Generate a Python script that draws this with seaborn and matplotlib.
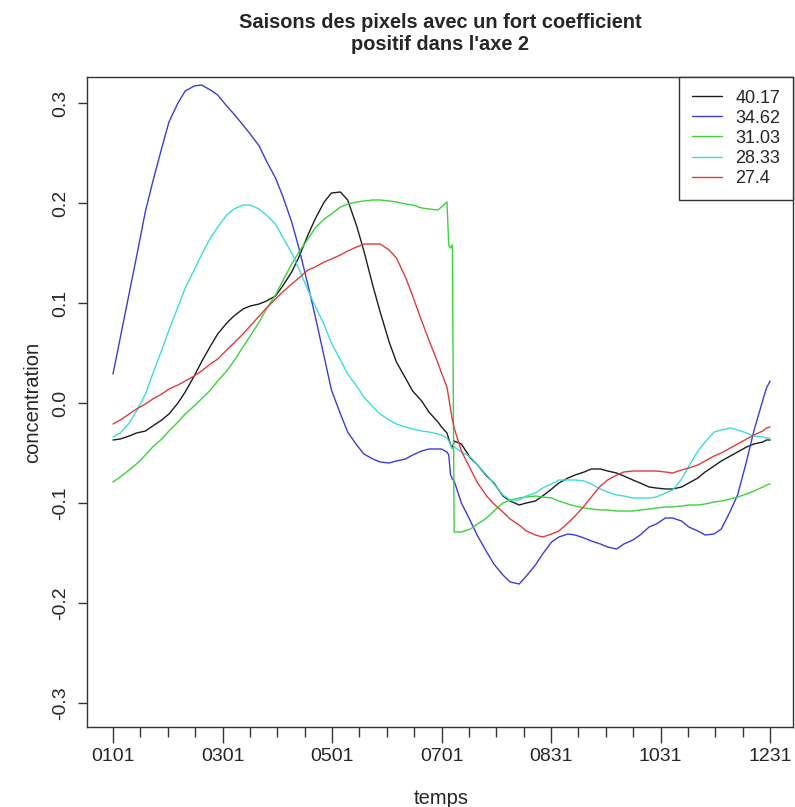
import numpy as np
import pandas as pd
import matplotlib
matplotlib.use("Agg")
import matplotlib.pyplot as plt
import seaborn as sns

# ---- data ----
# main reading grid (day of year)
days_a = [1, 10, 19, 28, 37, 46, 55, 64, 73, 82, 91, 100, 109, 118, 127, 136, 145, 154, 163, 172, 181,
          186, 187, 188, 189, 190,
          199, 208, 217, 226, 235, 244, 253, 262, 271, 280, 289, 298, 307, 316, 325, 334, 343, 352, 361,
          365]
# extra readings in between
days_b = [5, 14, 23, 32, 41, 50, 59, 68, 77, 86, 95, 104, 113, 122, 131, 140, 149, 158, 167, 176, 183,
          194, 203, 212, 221, 230, 239, 248, 257, 266, 275, 284, 293, 302, 311, 320, 329, 338, 347, 356, 363]

labels = ["40.17", "34.62", "31.03", "28.33", "27.4"]

s_4017_a = [-0.037, -0.033, -0.028, -0.017, 0.000, 0.027, 0.057, 0.080, 0.094, 0.099, 0.107, 0.131, 0.168,
            0.201, 0.211, 0.177, 0.117, 0.061, 0.025, 0.002, -0.019,
            -0.030, -0.036, -0.042, -0.045, -0.038,
            -0.055, -0.073, -0.093, -0.102, -0.098, -0.086, -0.075, -0.069, -0.066, -0.070, -0.077, -0.084,
            -0.086, -0.084, -0.075, -0.063, -0.053, -0.044, -0.039,
            -0.037]
s_4017_b = [-0.036, -0.030, -0.023, -0.011, 0.011, 0.041, 0.069, 0.087, 0.097, 0.102, 0.117, 0.146, 0.184,
            0.210, 0.203, 0.152, 0.091, 0.041, 0.012, -0.009, -0.024,
            -0.041, -0.062, -0.080, -0.098, -0.100, -0.093, -0.080, -0.072, -0.066, -0.068, -0.073, -0.080,
            -0.085, -0.086, -0.080, -0.069, -0.058, -0.049, -0.041, -0.037]

s_3462_a = [0.029, 0.110, 0.192, 0.255, 0.300, 0.317, 0.313, 0.297, 0.278, 0.257, 0.225, 0.181, 0.118,
            0.046, -0.011, -0.042, -0.056, -0.060, -0.056, -0.048, -0.046,
            -0.049, -0.052, -0.072, -0.076, -0.078,
            -0.118, -0.149, -0.172, -0.181, -0.162, -0.139, -0.131, -0.135, -0.141, -0.146, -0.137, -0.124,
            -0.115, -0.118, -0.128, -0.131, -0.108, -0.058, 0.003,
            0.022]
s_3462_b = [0.065, 0.146, 0.221, 0.281, 0.312, 0.318, 0.308, 0.289, 0.269, 0.242, 0.207, 0.155, 0.087,
            0.013, -0.029, -0.051, -0.059, -0.058, -0.052, -0.046, -0.046,
            -0.100, -0.133, -0.161, -0.179, -0.173, -0.151, -0.134, -0.132, -0.138, -0.144, -0.141, -0.132,
            -0.121, -0.115, -0.124, -0.132, -0.126, -0.092, -0.028, 0.015]

s_3103_a = [-0.079, -0.067, -0.052, -0.036, -0.019, -0.003, 0.013, 0.032, 0.056, 0.081, 0.108, 0.139, 0.164,
            0.184, 0.196, 0.201, 0.203, 0.202, 0.199, 0.195, 0.193,
            0.201, 0.158, 0.155, 0.158, -0.129,
            -0.126, -0.115, -0.100, -0.095, -0.093, -0.095, -0.101, -0.105, -0.107, -0.108, -0.108, -0.106,
            -0.104, -0.103, -0.102, -0.099, -0.096, -0.091, -0.084,
            -0.081]
s_3103_b = [-0.074, -0.061, -0.044, -0.028, -0.011, 0.004, 0.022, 0.042, 0.067, 0.094, 0.122, 0.151, 0.175,
            0.189, 0.199, 0.202, 0.203, 0.201, 0.198, 0.194, 0.196,
            -0.129, -0.121, -0.108, -0.097, -0.094, -0.094, -0.098, -0.103, -0.106, -0.107, -0.108, -0.107,
            -0.105, -0.104, -0.102, -0.101, -0.098, -0.094, -0.088, -0.082]

s_2833_a = [-0.034, -0.020, 0.009, 0.053, 0.096, 0.133, 0.165, 0.188, 0.198, 0.194, 0.179, 0.150, 0.113,
            0.078, 0.043, 0.017, -0.004, -0.017, -0.024, -0.028, -0.031,
            -0.035, -0.038, -0.042, -0.046, -0.044,
            -0.054, -0.072, -0.092, -0.097, -0.090, -0.081, -0.077, -0.078, -0.086, -0.092, -0.095, -0.095,
            -0.090, -0.076, -0.048, -0.029, -0.025, -0.030, -0.034,
            -0.035]
s_2833_b = [-0.030, -0.008, 0.029, 0.073, 0.115, 0.148, 0.176, 0.194, 0.198, 0.188, 0.166, 0.134, 0.097,
            0.060, 0.029, 0.006, -0.011, -0.021, -0.026, -0.029, -0.032,
            -0.049, -0.062, -0.081, -0.097, -0.093, -0.085, -0.077, -0.077, -0.081, -0.089, -0.093, -0.095,
            -0.094, -0.087, -0.063, -0.039, -0.027, -0.027, -0.033, -0.035]

s_274_a = [-0.021, -0.011, -0.001, 0.009, 0.018, 0.027, 0.039, 0.053, 0.069, 0.087, 0.104, 0.119, 0.133,
           0.141, 0.148, 0.156, 0.159, 0.153, 0.126, 0.082, 0.040,
           0.016, 0.005, -0.006, -0.017, -0.025,
           -0.066, -0.093, -0.109, -0.122, -0.132, -0.131, -0.120, -0.103, -0.083, -0.072, -0.068, -0.068,
           -0.069, -0.067, -0.062, -0.053, -0.045, -0.036, -0.028,
           -0.024]
s_274_b = [-0.017, -0.006, 0.004, 0.014, 0.022, 0.032, 0.044, 0.060, 0.077, 0.095, 0.111, 0.125, 0.136,
           0.144, 0.152, 0.159, 0.159, 0.145, 0.107, 0.063, 0.030,
           -0.048, -0.080, -0.101, -0.116, -0.128, -0.134, -0.128, -0.113, -0.094, -0.077, -0.069, -0.068,
           -0.068, -0.070, -0.065, -0.058, -0.050, -0.041, -0.032, -0.025]

colors = ["#1e1e1e", "#3c3cdc", "#3cd23c", "#3cdcdc", "#e03c3c"]
x_tick_labels = ["0101", "0301", "0501", "0701", "0831", "1031", "1231"]
y_tick_values = [-0.3, -0.2, -0.1, 0.0, 0.1, 0.2, 0.3]
y_tick_labels = ["-0.3", "-0.2", "-0.1", "0.0", "0.1", "0.2", "0.3"]

series = [(s_4017_a, s_4017_b), (s_3462_a, s_3462_b), (s_3103_a, s_3103_b),
          (s_2833_a, s_2833_b), (s_274_a, s_274_b)]

# ---- style ----
sns.set_style("ticks")
plt.rcParams['font.family'] = ['Liberation Sans', 'DejaVu Sans']
plt.rcParams['axes.unicode_minus'] = False

frames = []
for (sa, sb), lab in zip(series, labels):
    frames.append(pd.DataFrame({"jour": days_a + days_b, "valeur": sa + sb, "serie": lab}))
df = pd.concat(frames, ignore_index=True).sort_values(["serie", "jour"], kind="stable")

W, H = 795, 807
fig = plt.figure(figsize=(W / 100, H / 100), dpi=100)
fig.patch.set_facecolor("white")
ax = fig.add_axes([87 / W, 1 - 727 / H, (793 - 87) / W, (727 - 77) / H])

sns.lineplot(data=df, x="jour", y="valeur", hue="serie", hue_order=labels,
             palette=dict(zip(labels, colors)), estimator=None, sort=True,
             linewidth=1.0, ax=ax)

ax.set_xlim(-13.4, 377.7)
ax.set_ylim(-0.324, 0.326)

major = np.linspace(days_a[0], days_a[-1], len(x_tick_labels))
minor = np.linspace(days_a[0], days_a[-1], 25)
ax.set_xticks(major)
ax.set_xticklabels(x_tick_labels)
ax.set_xticks(minor, minor=True)
ax.tick_params(axis="x", which="major", length=11.5, width=1, pad=3.5, labelsize=14, color="#333333")
ax.tick_params(axis="x", which="minor", length=7.2, width=1, color="#333333")

ax.set_yticks(y_tick_values)
ax.set_yticklabels(y_tick_labels, rotation=90, va="center")
ax.tick_params(axis="y", which="major", length=6.5, width=1, pad=6.5, labelsize=14, color="#333333")

for sp in ax.spines.values():
    sp.set_visible(True)
    sp.set_color("#333333")
    sp.set_linewidth(1.0)

ax.set_xlabel("")
ax.set_ylabel("")

handles, labs = ax.get_legend_handles_labels()
leg = ax.legend(handles, labs, loc="upper right", borderaxespad=0, frameon=True, fancybox=False,
                edgecolor="#333333", framealpha=1, fontsize=13, handlelength=1.65,
                handletextpad=0.75, labelspacing=0.17, borderpad=0.7)
leg.get_frame().set_linewidth(1.0)

fig.text(440 / W, 1 - 13 / H, "Saisons des pixels avec un fort coefficient\npositif dans l'axe 2",
         ha="center", va="top", fontsize=14.4, fontweight="bold", linespacing=1.2, multialignment="center")
fig.text(441 / W, 1 - 804 / H, "temps", ha="center", va="baseline", fontsize=14.5)
fig.text(33 / W, 1 - 402 / H, "concentration", ha="center", va="center", rotation=90, fontsize=14.5)

fig.savefig("out.png", dpi=100, facecolor="white")
